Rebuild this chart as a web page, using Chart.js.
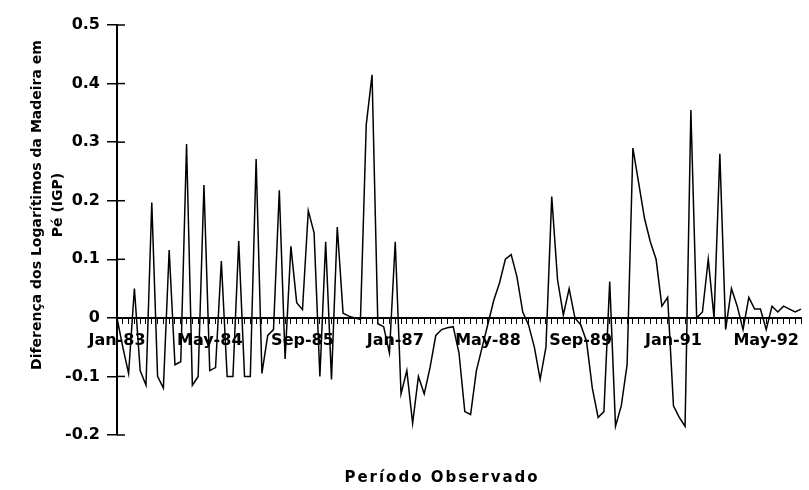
<!DOCTYPE html>
<html>
<head>
<meta charset="utf-8">
<script src="https://cdn.jsdelivr.net/npm/chart.js@4.4.1/dist/chart.umd.min.js"></script>
<style>
  html, body { margin: 0; padding: 0; background: #fff; }
  #wrap { width: 809px; height: 490px; }
</style>
</head>
<body>
<div id="wrap"><canvas id="igpChart" width="809" height="490"></canvas></div>
<script>
  // monthly differences of log prices, starting Jan-83
  const startYear = 1983;
  const monthNames = ['Jan', 'Feb', 'Mar', 'Apr', 'May', 'Jun', 'Jul', 'Aug', 'Sep', 'Oct', 'Nov', 'Dec'];
  const diffLog = [
    0.0, -0.05, -0.095, 0.05, -0.09, -0.115, 0.197, -0.1, -0.12, 0.116,
    -0.08, -0.075, 0.297, -0.115, -0.1, 0.227, -0.09, -0.085, 0.097, -0.1,
    -0.1, 0.131, -0.1, -0.1, 0.271, -0.095, -0.03, -0.02, 0.218, -0.07,
    0.122, 0.026, 0.014, 0.183, 0.145, -0.1, 0.13, -0.105, 0.155, 0.008,
    0.003, 0.0, -0.003, 0.33, 0.415, -0.01, -0.015, -0.06, 0.13, -0.13,
    -0.09, -0.18, -0.1, -0.13, -0.085, -0.03, -0.02, -0.017, -0.015, -0.06,
    -0.16, -0.165, -0.09, -0.05, -0.01, 0.03, 0.06, 0.1, 0.108, 0.07,
    0.01, -0.012, -0.05, -0.105, -0.05, 0.207, 0.065, 0.005, 0.05, 0.0,
    -0.012, -0.04, -0.12, -0.17, -0.16, 0.062, -0.185, -0.15, -0.08, 0.29,
    0.23, 0.17, 0.13, 0.1, 0.02, 0.035, -0.15, -0.17, -0.185, 0.355,
    0.0, 0.01, 0.1, 0.0, 0.28, -0.02, 0.05, 0.02, -0.02, 0.035,
    0.015, 0.015, -0.02, 0.02, 0.01, 0.02, 0.015, 0.01, 0.015
  ];
  const yTicks = [-0.2, -0.1, 0, 0.1, 0.2, 0.3, 0.4, 0.5];
  const labelEvery = 16;
  const yTitle = ['Diferença dos Logarítimos da Madeira em', 'Pé (IGP)'];
  const xTitle = 'Período Observado';

  const months = diffLog.map((v, i) => {
    const m = i % 12;
    const y = (startYear + Math.floor(i / 12)) % 100;
    return monthNames[m] + '-' + String(y).padStart(2, '0');
  });

  // inner half of the y tick marks + the two axis titles
  const extras = {
    id: 'extras',
    afterDraw(chart) {
      const { ctx, scales: { y } } = chart;
      ctx.save();
      ctx.strokeStyle = '#000';
      ctx.lineWidth = 1.5;
      yTicks.forEach(t => {
        const py = y.getPixelForValue(t);
        ctx.beginPath();
        ctx.moveTo(y.right, py);
        ctx.lineTo(y.right + 8, py);
        ctx.stroke();
      });

      ctx.fillStyle = '#000';
      ctx.textAlign = 'center';
      ctx.textBaseline = 'middle';
      ctx.font = 'bold 14px "DejaVu Sans"';
      ctx.translate(37, 205);
      ctx.rotate(-Math.PI / 2);
      ctx.fillText(yTitle[0], 0, 0);
      ctx.fillText(yTitle[1], 0, 21);
      ctx.restore();

      ctx.save();
      ctx.fillStyle = '#000';
      ctx.textAlign = 'center';
      ctx.textBaseline = 'middle';
      ctx.font = 'bold 15px "DejaVu Sans"';
      ctx.letterSpacing = '2px';
      ctx.fillText(xTitle, 442, 478);
      ctx.restore();
    }
  };

  const ctx = document.getElementById('igpChart').getContext('2d');
  const igpChart = new Chart(ctx, {
    type: 'line',
    data: {
      labels: months,
      datasets: [{
        data: diffLog,
        borderColor: '#000',
        borderWidth: 1.5,
        pointRadius: 0,
        fill: false,
        tension: 0
      }]
    },
    options: {
      responsive: false,
      animation: false,
      layout: { padding: { left: 0, right: 8, top: 25, bottom: 55 } },
      plugins: {
        legend: { display: false },
        tooltip: { enabled: false },
        title: { display: false }
      },
      scales: {
        x: {
          type: 'category',
          position: { y: 0 },
          offset: false,
          grid: { drawOnChartArea: false, drawTicks: true, tickLength: 5, color: '#000', lineWidth: 1 },
          border: { color: '#000', width: 2 },
          ticks: {
            autoSkip: false,
            maxRotation: 0,
            padding: 8,
            color: '#000',
            font: { family: 'DejaVu Sans', size: 16, weight: 'bold' },
            callback: function(value, i) {
              return i % labelEvery === 0 ? months[i] : '';
            }
          }
        },
        y: {
          min: -0.2,
          max: 0.5,
          afterFit: function(scale) { scale.width = 117; },
          afterBuildTicks: function(scale) { scale.ticks = yTicks.map(v => ({ value: v })); },
          grid: { drawOnChartArea: false, tickLength: 10, color: '#000', lineWidth: 1.5 },
          border: { color: '#000', width: 2 },
          title: { display: false },
          ticks: {
            color: '#000',
            padding: 7,
            font: { family: 'DejaVu Sans', size: 16, weight: 'bold' },
            callback: function(value) {
              return value === 0 ? '0' : value.toFixed(1);
            }
          }
        }
      }
    },
    plugins: [extras]
  });
</script>
</body>
</html>
